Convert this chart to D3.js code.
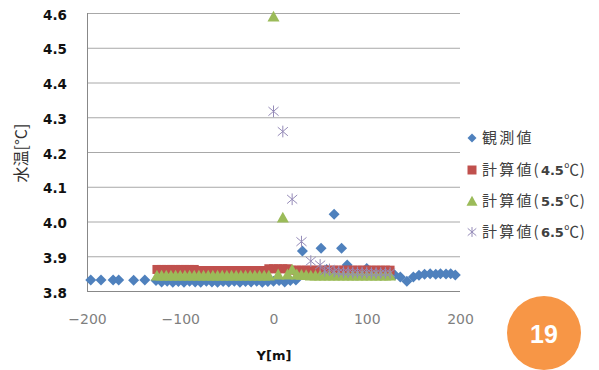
<!DOCTYPE html>
<html>
<head>
<meta charset="utf-8">
<script src="https://cdn.jsdelivr.net/npm/d3@7/dist/d3.min.js"></script>
<style>
  html, body { margin: 0; padding: 0; background: #fff; }
  svg { display: block; }
</style>
</head>
<body>
<svg id="chart" width="599" height="370"></svg>
<script>
// Observed water temperature along Y [m]
const obsY = [-196, -185, -172, -166, -150, -138,
  -126, -120, -114, -108, -102, -96, -90, -84, -78, -72, -66, -60, -54, -48,
  -42, -36, -30, -24, -18, -12, -6, 0, 6, 12, 18, 24,
  31, 51, 57, 65, 73, 79, 88, 100, 108, 115, 122,
  130, 136, 143, 150, 156, 162, 168, 174, 179, 185, 190, 195];
const obsT = [3.832, 3.832, 3.832, 3.832, 3.831, 3.832,
  3.830, 3.826, 3.828, 3.825, 3.827, 3.825, 3.828, 3.826, 3.825, 3.828, 3.826, 3.825, 3.827, 3.826,
  3.828, 3.825, 3.827, 3.826, 3.828, 3.825, 3.827, 3.828, 3.830, 3.826, 3.830, 3.832,
  3.915, 3.923, 3.862, 4.021, 3.923, 3.875, 3.846, 3.865, 3.846, 3.845, 3.846,
  3.846, 3.840, 3.828, 3.840, 3.845, 3.848, 3.850, 3.848, 3.850, 3.849, 3.850, 3.846];

// Calculated values on the model grid
const calcY = [-125, -120, -115, -110, -105, -100, -95, -90, -85, -80, -75, -70, -65, -60, -55,
  -50, -45, -40, -35, -30, -25, -20, -15, -10, -5, 0, 5, 10, 15, 20, 25, 30, 35, 40, 45,
  50, 55, 60, 65, 70, 75, 80, 85, 90, 95, 100, 105, 110, 115, 120, 125];
const calc45 = [3.862, 3.862, 3.862, 3.862, 3.862, 3.862, 3.862, 3.862, 3.862, 3.859, 3.859, 3.859, 3.859, 3.859, 3.859,
  3.859, 3.859, 3.859, 3.859, 3.859, 3.859, 3.859, 3.859, 3.859, 3.864, 3.864, 3.864, 3.864, 3.864, 3.860, 3.860, 3.860, 3.860, 3.860, 3.860,
  3.860, 3.860, 3.860, 3.860, 3.860, 3.860, 3.860, 3.860, 3.860, 3.860, 3.860, 3.860, 3.860, 3.860, 3.860, 3.860];
const calc55 = [3.845, 3.845, 3.845, 3.845, 3.845, 3.845, 3.845, 3.845, 3.845, 3.845, 3.845, 3.845, 3.845, 3.845, 3.845,
  3.845, 3.845, 3.845, 3.845, 3.845, 3.845, 3.845, 3.845, 3.845, 3.845, 4.590, 3.848, 4.012, 3.848, 3.862, 3.848, 3.847, 3.846, 3.845, 3.845,
  3.845, 3.845, 3.845, 3.845, 3.845, 3.845, 3.845, 3.845, 3.845, 3.845, 3.845, 3.845, 3.845, 3.845, 3.845, 3.845];
// 6.5°C run covers the downstream half only
const calc65Y = [0, 10, 20, 30, 40, 50, 55, 60, 65, 70, 75, 80, 85, 90, 95, 100, 105, 110, 115, 120, 125];
const calc65 = [4.317, 4.259, 4.064, 3.942, 3.886, 3.875, 3.858, 3.862, 3.856, 3.855, 3.854, 3.854, 3.853,
  3.853, 3.853, 3.853, 3.852, 3.852, 3.852, 3.852, 3.852];

const xTicks = [-200, -100, 0, 100, 200];
const yTicks = [3.8, 3.9, 4.0, 4.1, 4.2, 4.3, 4.4, 4.5, 4.6];

const seriesNames = ["観測値", "計算値(", "計算値(", "計算値("];
const seriesBold = ["", "4.5", "5.5", "6.5"];

const svg = d3.select("#chart");
const W = 599, H = 370;
svg.append("rect").attr("width", W).attr("height", H).attr("fill", "#fff");

const plot = { left: 87, right: 460, top: 13, bottom: 291 };
const x = d3.scaleLinear().domain([-200, 200]).range([plot.left, plot.right]);
const y = d3.scaleLinear().domain([3.8, 4.6]).range([plot.bottom, plot.top]);

// Marker shapes, size = width squared
const diamond = { draw(ctx, size) { const r = Math.sqrt(size) / 2;
  ctx.moveTo(0, -r); ctx.lineTo(r, 0); ctx.lineTo(0, r); ctx.lineTo(-r, 0); ctx.closePath(); } };
const square = { draw(ctx, size) { const r = Math.sqrt(size) / 2;
  ctx.rect(-r, -r, 2 * r, 2 * r); } };
const triangle = { draw(ctx, size) { const r = Math.sqrt(size) / 2;
  ctx.moveTo(0, -r * 0.95); ctx.lineTo(r, r * 0.85); ctx.lineTo(-r, r * 0.85); ctx.closePath(); } };
const asterisk = { draw(ctx, size) { const r = Math.sqrt(size) / 2, d = r * 0.78;
  ctx.moveTo(0, -r * 0.9); ctx.lineTo(0, r * 0.9);
  ctx.moveTo(-d, -d * 0.85); ctx.lineTo(d, d * 0.85);
  ctx.moveTo(d, -d * 0.85); ctx.lineTo(-d, d * 0.85); } };

// Grid lines
const grid = svg.append("g").attr("transform", `translate(${plot.left},0)`)
  .call(d3.axisLeft(y).tickValues(yTicks).tickSize(-(plot.right - plot.left)).tickFormat(""));
grid.select(".domain").remove();
grid.selectAll(".tick line").attr("stroke", "#a8a8a8").attr("stroke-width", 1);

// Axis lines
svg.append("line").attr("x1", plot.left + 0.5).attr("x2", plot.left + 0.5)
  .attr("y1", plot.top).attr("y2", plot.bottom).attr("stroke", "#888");
svg.append("line").attr("x1", plot.left).attr("x2", plot.right)
  .attr("y1", plot.bottom + 0.5).attr("y2", plot.bottom + 0.5).attr("stroke", "#888");

// Y tick labels
const yAx = svg.append("g").attr("transform", `translate(${plot.left},0)`)
  .call(d3.axisLeft(y).tickValues(yTicks).tickSize(0).tickPadding(20).tickFormat(d3.format(".1f")));
yAx.select(".domain").remove();
yAx.selectAll("text").attr("font-family", "DejaVu Sans").attr("font-weight", "bold")
  .attr("font-size", 13.5).attr("fill", "#111").attr("dy", "0.45em");

// X tick labels
const xAx = svg.append("g").attr("transform", `translate(0,${plot.bottom})`)
  .call(d3.axisBottom(x).tickValues(xTicks).tickSize(0).tickPadding(23).tickFormat(d3.format("d")));
xAx.select(".domain").remove();
xAx.selectAll("text").attr("font-family", "DejaVu Sans").attr("font-size", 14)
  .attr("fill", "#7f7f7f");

// Axis titles
svg.append("text").attr("x", 274).attr("y", 360).attr("text-anchor", "middle")
  .attr("font-family", "DejaVu Sans").attr("font-weight", "bold").attr("font-size", 13)
  .attr("fill", "#111").text("Y[m]");
svg.append("text").attr("transform", "translate(27,153) rotate(-90)").attr("text-anchor", "middle")
  .attr("font-family", "Noto Sans CJK JP").attr("font-size", 16).attr("fill", "#333")
  .text("水温[°C]");

// Series
const obs = d3.zip(obsY, obsT);
const s45 = d3.zip(calcY, calc45);
const s55 = d3.zip(calcY, calc55);
const s65 = d3.zip(calc65Y, calc65);

const series = [
  { data: obs, type: diamond, size: 121, fill: "#4f81bd", stroke: "none" },
  { data: s45, type: square, size: 81, fill: "#c0504d", stroke: "none" },
  { data: s55, type: triangle, size: 144, fill: "#9bbb59", stroke: "none" },
  { data: s65, type: asterisk, size: 169, fill: "none", stroke: "#958bb8" }
];

series.forEach(s => {
  svg.append("g").selectAll("path").data(s.data).join("path")
    .attr("transform", d => `translate(${x(d[0])},${y(d[1])})`)
    .attr("d", d3.symbol().type(s.type).size(s.size)())
    .attr("fill", s.fill).attr("stroke", s.stroke).attr("stroke-width", 1);
});

// Legend
const legendRows = [138, 170, 201, 232];
const leg = svg.append("g");
series.forEach((s, i) => {
  const sz = [81, 81, 121, 121][i];
  leg.append("path").attr("transform", `translate(472,${legendRows[i]})`)
    .attr("d", d3.symbol().type(s.type).size(sz)())
    .attr("fill", s.fill).attr("stroke", s.stroke);
  const t = leg.append("text").attr("x", 482).attr("y", legendRows[i]).attr("dy", "0.36em")
    .attr("font-family", "Noto Sans CJK JP").attr("font-size", 15).attr("fill", "#404040")
    .attr("letter-spacing", 2.2);
  t.append("tspan").text(seriesNames[i]);
  if (seriesBold[i]) {
    t.append("tspan").attr("font-weight", "bold").attr("font-family", "DejaVu Sans")
      .attr("font-size", 13).attr("letter-spacing", 0).text(seriesBold[i]);
    t.append("tspan").attr("letter-spacing", 0.8).text("℃)");
  }
});

// Page number badge
svg.append("circle").attr("cx", 544).attr("cy", 333).attr("r", 37).attr("fill", "#f79646");
svg.append("text").attr("x", 544).attr("y", 334).attr("dy", "0.36em").attr("text-anchor", "middle")
  .attr("font-family", "Liberation Sans Narrow, Liberation Sans").attr("font-weight", "bold")
  .attr("font-size", 25).attr("fill", "#fff").text("19");
</script>
</body>
</html>
